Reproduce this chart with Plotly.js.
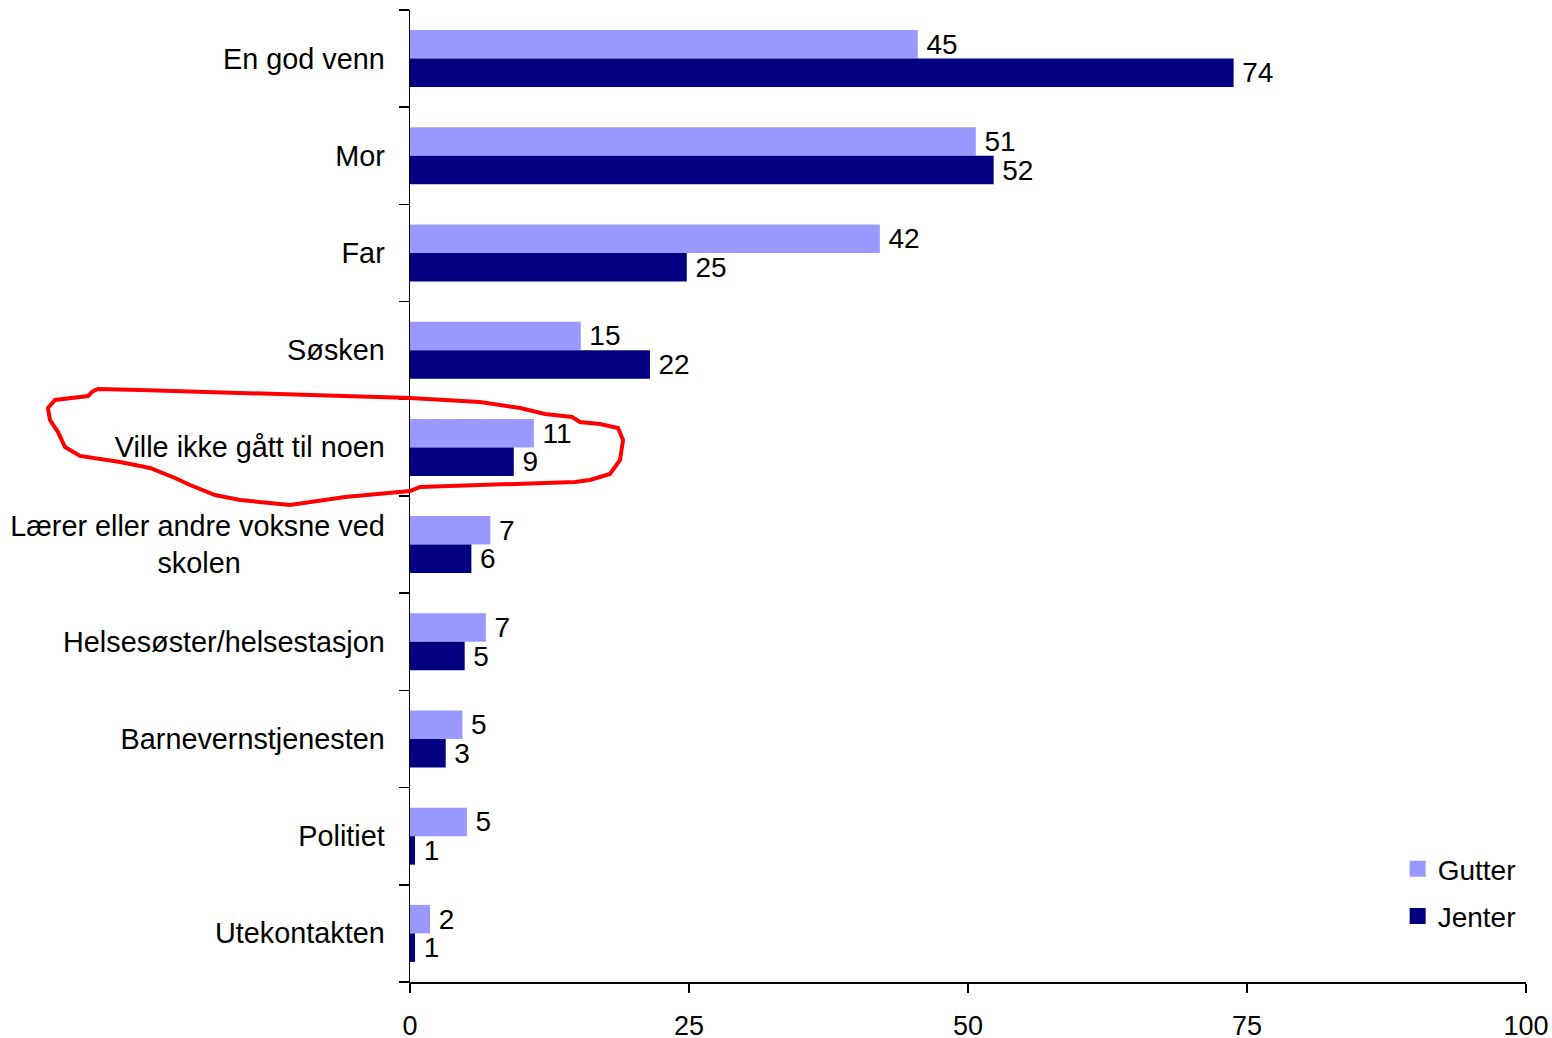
<!DOCTYPE html>
<html>
<head>
<meta charset="utf-8">
<script src="https://cdn.plot.ly/plotly-3.0.1.min.js"></script>
<style>html,body{margin:0;padding:0;background:#fff;}#chart{width:1552px;height:1038px;}</style>
</head>
<body>
<div id="chart"></div>
<script>
const categories = ["En god venn","Mor","Far","Søsken","Ville ikke gått til noen","Lærer eller andre voksne ved<br>skolen","Helsesøster/helsestasjon","Barnevernstjenesten","Politiet","Utekontakten"];
const tickLabels = ["En god venn","Mor","Far","Søsken","Ville ikke gått til noen","Lærer eller andre voksne ved<br>skolen" + "\u00a0".repeat(18),"Helsesøster/helsestasjon","Barnevernstjenesten","Politiet","Utekontakten"];
const gutter = [45.5,50.7,42.1,15.3,11.1,7.2,6.8,4.7,5.1,1.8];
const jenter = [73.8,52.3,24.8,21.5,9.3,5.5,4.9,3.2,0.45,0.45];
const gutterLabels = ["45","51","42","15","11","7","7","5","5","2"];
const jenterLabels = ["74","52","25","22","9","6","5","3","1","1"];
const seriesNames = ["Gutter","Jenter"];
const seriesColors = ["#9999FF","#000080"];
const xTicks = [0,25,50,75,100];

const FONT = "Liberation Sans, Arial, sans-serif";
const pad = s => "\u2009" + s;

const traces = [
  {type:'bar', orientation:'h', name:seriesNames[0], y:categories, x:gutter,
   marker:{color:seriesColors[0]}, text:gutterLabels.map(pad), textposition:'outside',
   textfont:{color:'#000', size:28, family:FONT}, constraintext:'none', cliponaxis:false,
   showlegend:false},
  {type:'bar', orientation:'h', name:seriesNames[1], y:categories, x:jenter,
   marker:{color:seriesColors[1]}, text:jenterLabels.map(pad), textposition:'outside',
   textfont:{color:'#000', size:28, family:FONT}, constraintext:'none', cliponaxis:false,
   showlegend:false}
];
// legend entries with larger square swatches
seriesNames.forEach((n,i)=>traces.push({type:'scatter', mode:'markers', name:n, x:[null], y:[null],
  marker:{symbol:'square', size:20, color:seriesColors[i]}, legendgroup:n, showlegend:true}));

// hand-drawn red loop (pixel positions in the page), converted to paper coordinates
const PL = 410, PR = 1526, PT = 10, PB = 982;
const loopPx = [[93,391],[98,389],[140,390],[410,398],[480,402],[520,408],[545,414],[572,417],[580,422],[600,424],[618,428],[623,440],[620,460],[610,474],[590,480],[575,482],[420,487],[410,491],[345,497],[290,505],[240,500],[215,495],[190,485],[175,478],[150,468],[120,462],[80,456],[65,447],[58,432],[50,420],[48,408],[55,400],[88,396],[93,391]];
const toPaper = p => [((p[0]-PL)/(PR-PL)).toFixed(4), ((PB-p[1])/(PB-PT)).toFixed(4)];
const loopPath = loopPx.map((p,i)=>{const q=toPaper(p);return (i?'L':'M')+q[0]+','+q[1];}).join(' ');

const layout = {
  width:1552, height:1038,
  margin:{l:PL, r:1552-PR, t:PT, b:1038-PB, pad:0},
  paper_bgcolor:'#fff', plot_bgcolor:'#fff',
  font:{family:FONT, size:28, color:'#000'},
  barmode:'group', bargap:0.414, bargroupgap:0,
  showlegend:true,
  legend:{x:0.885, y:0.142, xanchor:'left', yanchor:'top', traceorder:'grouped', tracegroupgap:8,
          bgcolor:'rgba(0,0,0,0)', font:{size:28, family:FONT}, itemwidth:30},
  xaxis:{range:[0,100], tickvals:xTicks, ticks:'outside', ticklen:9, tickwidth:1.5, tickcolor:'#000',
         showline:true, linecolor:'#000', linewidth:1.5, showgrid:false, zeroline:false,
         tickfont:{size:27, family:FONT}, ticklabelstandoff:10, fixedrange:true},
  yaxis:{type:'category', autorange:'reversed', tickson:'boundaries', ticks:'outside', ticklen:10,
         tickwidth:1.5, tickcolor:'#000', showline:true, linecolor:'#000', linewidth:1.5,
         showgrid:false, zeroline:false, tickvals:categories, ticktext:tickLabels,
         tickfont:{size:28.8, family:FONT}, ticklabelstandoff:18, fixedrange:true},
  shapes:[{type:'path', xref:'paper', yref:'paper', path:loopPath,
           line:{color:'#FF0000', width:4}, layer:'above'}]
};

Plotly.newPlot('chart', traces, layout, {displayModeBar:false, staticPlot:true});
</script>
</body>
</html>
